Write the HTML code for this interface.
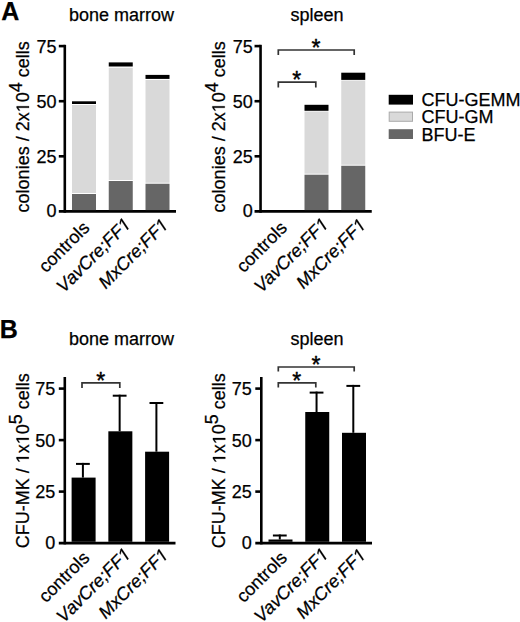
<!DOCTYPE html>
<html><head><meta charset="utf-8"><style>
html,body{margin:0;padding:0;background:#fff;}
body{width:520px;height:622px;overflow:hidden;}
svg{display:block;font-family:"Liberation Sans", sans-serif;}
svg text{stroke:#000;stroke-width:0.25px;}
svg .g1{stroke:#000;}
svg text.ast{stroke-width:0.4px;}
svg tspan.h{fill-opacity:0;stroke-opacity:0;}
</style></head><body>
<svg width="520" height="622" viewBox="0 0 520 622">
<rect width="520" height="622" fill="#fff"/>
<text x="1.3" y="19.6" font-size="25" text-anchor="start" font-weight="bold" font-style="normal" fill="#000">A</text>
<text x="-0.2" y="337.5" font-size="25" text-anchor="start" font-weight="bold" font-style="normal" fill="#000">B</text>
<line x1="64.80" y1="44.80" x2="64.80" y2="212.70" stroke="#000" stroke-width="2.6" stroke-linecap="butt"/>
<line x1="58.80" y1="211.40" x2="176.00" y2="211.40" stroke="#000" stroke-width="2.6" stroke-linecap="butt"/>
<line x1="58.80" y1="46.10" x2="64.80" y2="46.10" stroke="#000" stroke-width="2.6" stroke-linecap="butt"/>
<text x="56.50" y="52.60" font-size="18" text-anchor="end" font-weight="normal" font-style="normal" fill="#000">75</text>
<line x1="58.80" y1="101.20" x2="64.80" y2="101.20" stroke="#000" stroke-width="2.6" stroke-linecap="butt"/>
<text x="56.50" y="107.70" font-size="18" text-anchor="end" font-weight="normal" font-style="normal" fill="#000">50</text>
<line x1="58.80" y1="156.30" x2="64.80" y2="156.30" stroke="#000" stroke-width="2.6" stroke-linecap="butt"/>
<text x="56.50" y="162.80" font-size="18" text-anchor="end" font-weight="normal" font-style="normal" fill="#000">25</text>
<text x="56.50" y="217.10" font-size="18" text-anchor="end" font-weight="normal" font-style="normal" fill="#000">0</text>
<text x="121.6" y="21.4" font-size="18" text-anchor="middle" font-weight="normal" font-style="normal" fill="#000">bone marrow</text>
<g transform="translate(29,212.4) rotate(-90)"><text font-size="18">colonies / 2x<tspan class="h">1</tspan>0<tspan dy="-7.2">4</tspan><tspan dy="7.2"> cells</tspan></text><path class="g1" transform="translate(100.047,0) scale(0.0087890625,-0.0087890625)" d="M515,0L696,0L696,1409L530,1409L197,1180L197,1010L515,1237Z" stroke-width="28.44"/></g>
<rect x="72.00" y="194.00" width="24.00" height="16.10" fill="#666666"/>
<rect x="72.00" y="105.00" width="24.00" height="88.00" fill="#d9d9d9"/>
<rect x="72.00" y="101.30" width="24.00" height="2.70" fill="#000"/>
<rect x="108.75" y="181.00" width="24.00" height="29.10" fill="#666666"/>
<rect x="108.75" y="67.80" width="24.00" height="112.20" fill="#d9d9d9"/>
<rect x="108.75" y="62.40" width="24.00" height="4.10" fill="#000"/>
<rect x="145.50" y="183.75" width="24.00" height="26.35" fill="#666666"/>
<rect x="145.50" y="80.00" width="24.00" height="102.75" fill="#d9d9d9"/>
<rect x="145.50" y="74.90" width="24.00" height="4.00" fill="#000"/>
<text font-size="18" text-anchor="end" font-style="normal" transform="translate(90.50,229.00) rotate(-45)">controls</text>
<g transform="translate(132.00,225.40) rotate(-45)"><text font-size="18" text-anchor="end" font-style="italic">VavCre;FF<tspan class="h">1</tspan></text><path class="g1" transform="translate(-10.016,0) scale(0.0087890625,-0.0087890625)" d="M412,0L593,0L867,1409L701,1409L324,1180L289,1000L650,1223Z" stroke-width="28.44"/></g>
<g transform="translate(169.50,226.00) rotate(-45)"><text font-size="18" text-anchor="end" font-style="italic">MxCre;FF<tspan class="h">1</tspan></text><path class="g1" transform="translate(-10.016,0) scale(0.0087890625,-0.0087890625)" d="M412,0L593,0L867,1409L701,1409L324,1180L289,1000L650,1223Z" stroke-width="28.44"/></g>
<line x1="260.55" y1="44.80" x2="260.55" y2="212.70" stroke="#000" stroke-width="2.6" stroke-linecap="butt"/>
<line x1="254.55" y1="211.40" x2="371.75" y2="211.40" stroke="#000" stroke-width="2.6" stroke-linecap="butt"/>
<line x1="254.55" y1="46.10" x2="260.55" y2="46.10" stroke="#000" stroke-width="2.6" stroke-linecap="butt"/>
<text x="252.85" y="52.60" font-size="18" text-anchor="end" font-weight="normal" font-style="normal" fill="#000">75</text>
<line x1="254.55" y1="101.20" x2="260.55" y2="101.20" stroke="#000" stroke-width="2.6" stroke-linecap="butt"/>
<text x="252.85" y="107.70" font-size="18" text-anchor="end" font-weight="normal" font-style="normal" fill="#000">50</text>
<line x1="254.55" y1="156.30" x2="260.55" y2="156.30" stroke="#000" stroke-width="2.6" stroke-linecap="butt"/>
<text x="252.85" y="162.80" font-size="18" text-anchor="end" font-weight="normal" font-style="normal" fill="#000">25</text>
<text x="252.85" y="217.10" font-size="18" text-anchor="end" font-weight="normal" font-style="normal" fill="#000">0</text>
<text x="317" y="21.4" font-size="18" text-anchor="middle" font-weight="normal" font-style="normal" fill="#000">spleen</text>
<g transform="translate(224.75,212.4) rotate(-90)"><text font-size="18">colonies / 2x<tspan class="h">1</tspan>0<tspan dy="-7.2">4</tspan><tspan dy="7.2"> cells</tspan></text><path class="g1" transform="translate(100.047,0) scale(0.0087890625,-0.0087890625)" d="M515,0L696,0L696,1409L530,1409L197,1180L197,1010L515,1237Z" stroke-width="28.44"/></g>
<rect x="304.50" y="174.70" width="24.00" height="35.40" fill="#666666"/>
<rect x="304.50" y="111.50" width="24.00" height="62.20" fill="#d9d9d9"/>
<rect x="304.50" y="104.80" width="24.00" height="6.00" fill="#000"/>
<rect x="341.25" y="165.75" width="24.00" height="44.35" fill="#666666"/>
<rect x="341.25" y="80.50" width="24.00" height="84.25" fill="#d9d9d9"/>
<rect x="341.25" y="72.70" width="24.00" height="7.20" fill="#000"/>
<text font-size="18" text-anchor="end" font-style="normal" transform="translate(288.20,229.00) rotate(-45)">controls</text>
<g transform="translate(329.70,225.40) rotate(-45)"><text font-size="18" text-anchor="end" font-style="italic">VavCre;FF<tspan class="h">1</tspan></text><path class="g1" transform="translate(-10.016,0) scale(0.0087890625,-0.0087890625)" d="M412,0L593,0L867,1409L701,1409L324,1180L289,1000L650,1223Z" stroke-width="28.44"/></g>
<g transform="translate(367.20,226.00) rotate(-45)"><text font-size="18" text-anchor="end" font-style="italic">MxCre;FF<tspan class="h">1</tspan></text><path class="g1" transform="translate(-10.016,0) scale(0.0087890625,-0.0087890625)" d="M412,0L593,0L867,1409L701,1409L324,1180L289,1000L650,1223Z" stroke-width="28.44"/></g>
<path d="M278.30,55.00 V50.00 H354.20 V55.00" fill="none" stroke="#333333" stroke-width="1.7"/>
<text x="316.05" y="55.80" font-size="23" class="ast" text-anchor="middle">*</text>
<path d="M278.30,87.50 V82.20 H315.80 V87.50" fill="none" stroke="#333333" stroke-width="1.7"/>
<text x="296.85" y="88.00" font-size="23" class="ast" text-anchor="middle">*</text>
<rect x="388.70" y="94.80" width="24.30" height="9.80" fill="#000"/>
<rect x="389.2" y="112.1" width="23.3" height="9.2" fill="#d9d9d9" stroke="#aaa" stroke-width="1"/>
<rect x="388.70" y="129.20" width="24.30" height="9.80" fill="#666666"/>
<text x="421.5" y="105.6" font-size="18" text-anchor="start" font-weight="normal" font-style="normal" fill="#000">CFU-GEMM</text>
<text x="421.5" y="123.2" font-size="18" text-anchor="start" font-weight="normal" font-style="normal" fill="#000">CFU-GM</text>
<text x="421.5" y="141.2" font-size="18" text-anchor="start" font-weight="normal" font-style="normal" fill="#000">BFU-E</text>
<line x1="64.80" y1="377.00" x2="64.80" y2="544.40" stroke="#000" stroke-width="2.6" stroke-linecap="butt"/>
<line x1="58.80" y1="543.10" x2="175.50" y2="543.10" stroke="#000" stroke-width="2.6" stroke-linecap="butt"/>
<line x1="58.80" y1="388.60" x2="64.80" y2="388.60" stroke="#000" stroke-width="2.6" stroke-linecap="butt"/>
<text x="55.30" y="395.10" font-size="18" text-anchor="end" font-weight="normal" font-style="normal" fill="#000">75</text>
<line x1="58.80" y1="440.10" x2="64.80" y2="440.10" stroke="#000" stroke-width="2.6" stroke-linecap="butt"/>
<text x="55.30" y="446.60" font-size="18" text-anchor="end" font-weight="normal" font-style="normal" fill="#000">50</text>
<line x1="58.80" y1="491.60" x2="64.80" y2="491.60" stroke="#000" stroke-width="2.6" stroke-linecap="butt"/>
<text x="55.30" y="498.10" font-size="18" text-anchor="end" font-weight="normal" font-style="normal" fill="#000">25</text>
<text x="55.30" y="548.80" font-size="18" text-anchor="end" font-weight="normal" font-style="normal" fill="#000">0</text>
<text x="121.6" y="345.4" font-size="18" text-anchor="middle" font-weight="normal" font-style="normal" fill="#000">bone marrow</text>
<g transform="translate(28.8,548.2) rotate(-90)"><text font-size="18">CFU-MK / <tspan class="h">1</tspan>x<tspan class="h">1</tspan>0<tspan dy="-7.2">5</tspan><tspan dy="7.2"> cells</tspan></text><path class="g1" transform="translate(84.984,0) scale(0.0087890625,-0.0087890625)" d="M515,0L696,0L696,1409L530,1409L197,1180L197,1010L515,1237Z" stroke-width="28.44"/><path class="g1" transform="translate(104.000,0) scale(0.0087890625,-0.0087890625)" d="M515,0L696,0L696,1409L530,1409L197,1180L197,1010L515,1237Z" stroke-width="28.44"/></g>
<line x1="82.90" y1="462.90" x2="82.90" y2="477.60" stroke="#000" stroke-width="2" stroke-linecap="butt"/>
<line x1="76.00" y1="463.90" x2="89.80" y2="463.90" stroke="#000" stroke-width="2" stroke-linecap="butt"/>
<rect x="71.60" y="477.60" width="24.00" height="64.20" fill="#000"/>
<line x1="119.65" y1="394.70" x2="119.65" y2="431.30" stroke="#000" stroke-width="2" stroke-linecap="butt"/>
<line x1="112.75" y1="395.70" x2="126.55" y2="395.70" stroke="#000" stroke-width="2" stroke-linecap="butt"/>
<rect x="108.35" y="431.30" width="24.00" height="110.50" fill="#000"/>
<line x1="156.40" y1="402.00" x2="156.40" y2="451.70" stroke="#000" stroke-width="2" stroke-linecap="butt"/>
<line x1="149.50" y1="403.00" x2="163.30" y2="403.00" stroke="#000" stroke-width="2" stroke-linecap="butt"/>
<rect x="145.10" y="451.70" width="24.00" height="90.10" fill="#000"/>
<text font-size="18" text-anchor="end" font-style="normal" transform="translate(90.50,559.00) rotate(-45)">controls</text>
<g transform="translate(132.00,555.40) rotate(-45)"><text font-size="18" text-anchor="end" font-style="italic">VavCre;FF<tspan class="h">1</tspan></text><path class="g1" transform="translate(-10.016,0) scale(0.0087890625,-0.0087890625)" d="M412,0L593,0L867,1409L701,1409L324,1180L289,1000L650,1223Z" stroke-width="28.44"/></g>
<g transform="translate(169.50,556.00) rotate(-45)"><text font-size="18" text-anchor="end" font-style="italic">MxCre;FF<tspan class="h">1</tspan></text><path class="g1" transform="translate(-10.016,0) scale(0.0087890625,-0.0087890625)" d="M412,0L593,0L867,1409L701,1409L324,1180L289,1000L650,1223Z" stroke-width="28.44"/></g>
<line x1="261.30" y1="377.00" x2="261.30" y2="544.40" stroke="#000" stroke-width="2.6" stroke-linecap="butt"/>
<line x1="255.30" y1="543.10" x2="372.00" y2="543.10" stroke="#000" stroke-width="2.6" stroke-linecap="butt"/>
<line x1="255.30" y1="388.60" x2="261.30" y2="388.60" stroke="#000" stroke-width="2.6" stroke-linecap="butt"/>
<text x="251.80" y="395.10" font-size="18" text-anchor="end" font-weight="normal" font-style="normal" fill="#000">75</text>
<line x1="255.30" y1="440.10" x2="261.30" y2="440.10" stroke="#000" stroke-width="2.6" stroke-linecap="butt"/>
<text x="251.80" y="446.60" font-size="18" text-anchor="end" font-weight="normal" font-style="normal" fill="#000">50</text>
<line x1="255.30" y1="491.60" x2="261.30" y2="491.60" stroke="#000" stroke-width="2.6" stroke-linecap="butt"/>
<text x="251.80" y="498.10" font-size="18" text-anchor="end" font-weight="normal" font-style="normal" fill="#000">25</text>
<text x="251.80" y="548.80" font-size="18" text-anchor="end" font-weight="normal" font-style="normal" fill="#000">0</text>
<text x="317" y="345.4" font-size="18" text-anchor="middle" font-weight="normal" font-style="normal" fill="#000">spleen</text>
<g transform="translate(225.3,548.2) rotate(-90)"><text font-size="18">CFU-MK / <tspan class="h">1</tspan>x<tspan class="h">1</tspan>0<tspan dy="-7.2">5</tspan><tspan dy="7.2"> cells</tspan></text><path class="g1" transform="translate(84.984,0) scale(0.0087890625,-0.0087890625)" d="M515,0L696,0L696,1409L530,1409L197,1180L197,1010L515,1237Z" stroke-width="28.44"/><path class="g1" transform="translate(104.000,0) scale(0.0087890625,-0.0087890625)" d="M515,0L696,0L696,1409L530,1409L197,1180L197,1010L515,1237Z" stroke-width="28.44"/></g>
<line x1="279.80" y1="534.50" x2="279.80" y2="539.50" stroke="#000" stroke-width="2" stroke-linecap="butt"/>
<line x1="272.90" y1="535.50" x2="286.70" y2="535.50" stroke="#000" stroke-width="2" stroke-linecap="butt"/>
<rect x="268.50" y="539.50" width="24.00" height="2.30" fill="#000"/>
<line x1="316.55" y1="391.60" x2="316.55" y2="412.00" stroke="#000" stroke-width="2" stroke-linecap="butt"/>
<line x1="309.65" y1="392.60" x2="323.45" y2="392.60" stroke="#000" stroke-width="2" stroke-linecap="butt"/>
<rect x="305.25" y="412.00" width="24.00" height="129.80" fill="#000"/>
<line x1="353.30" y1="384.90" x2="353.30" y2="432.80" stroke="#000" stroke-width="2" stroke-linecap="butt"/>
<line x1="346.40" y1="385.90" x2="360.20" y2="385.90" stroke="#000" stroke-width="2" stroke-linecap="butt"/>
<rect x="342.00" y="432.80" width="24.00" height="109.00" fill="#000"/>
<text font-size="18" text-anchor="end" font-style="normal" transform="translate(288.20,559.00) rotate(-45)">controls</text>
<g transform="translate(329.70,555.40) rotate(-45)"><text font-size="18" text-anchor="end" font-style="italic">VavCre;FF<tspan class="h">1</tspan></text><path class="g1" transform="translate(-10.016,0) scale(0.0087890625,-0.0087890625)" d="M412,0L593,0L867,1409L701,1409L324,1180L289,1000L650,1223Z" stroke-width="28.44"/></g>
<g transform="translate(367.20,556.00) rotate(-45)"><text font-size="18" text-anchor="end" font-style="italic">MxCre;FF<tspan class="h">1</tspan></text><path class="g1" transform="translate(-10.016,0) scale(0.0087890625,-0.0087890625)" d="M412,0L593,0L867,1409L701,1409L324,1180L289,1000L650,1223Z" stroke-width="28.44"/></g>
<path d="M82.00,388.00 V382.80 H119.80 V388.00" fill="none" stroke="#333333" stroke-width="1.7"/>
<text x="100.70" y="389.20" font-size="23" class="ast" text-anchor="middle">*</text>
<path d="M278.30,371.50 V367.00 H354.20 V371.50" fill="none" stroke="#333333" stroke-width="1.7"/>
<text x="316.05" y="372.90" font-size="23" class="ast" text-anchor="middle">*</text>
<path d="M278.30,387.50 V382.80 H315.80 V387.50" fill="none" stroke="#333333" stroke-width="1.7"/>
<text x="296.85" y="389.00" font-size="23" class="ast" text-anchor="middle">*</text>
</svg>
</body></html>
